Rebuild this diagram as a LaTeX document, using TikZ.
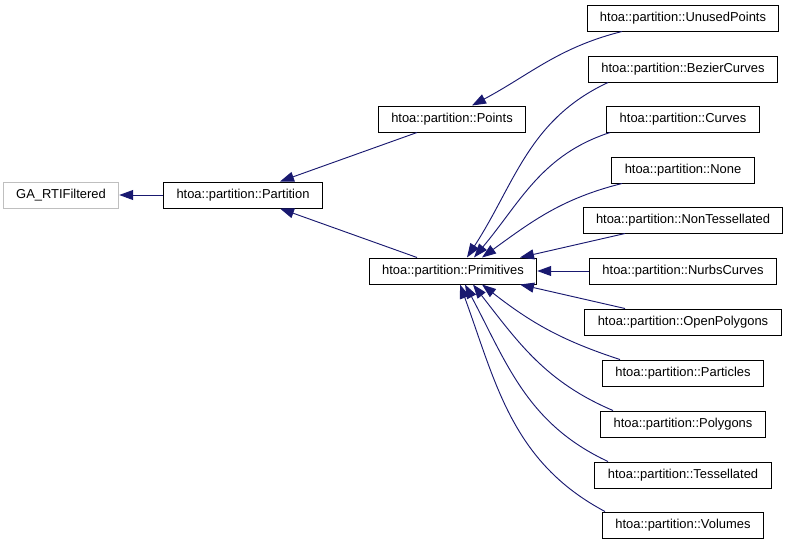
\documentclass[tikz,border=0pt]{standalone}
\usepackage{fontspec}
\setmainfont{Liberation Sans}
\usetikzlibrary{arrows.meta,calc}
\definecolor{edgeblue}{HTML}{191970}
\begin{document}
\begin{tikzpicture}[x=0.75pt,y=0.75pt,font=\fontsize{9.7}{11}\selectfont,
  cls/.style={draw=black,line width=0.75pt,fill=white,minimum height=19.5pt,inner xsep=9.7pt,inner ysep=0pt},
  ext/.style={cls,draw=black!25},
  inh/.style={draw=edgeblue,line width=0.7pt,-{Triangle[length=10.5pt,width=7.5pt]}}]
\useasboundingbox (0,0) rectangle (789,-544);
\node[ext] (ga) at (61,-195) {GA\_RTIFiltered};
\node[cls] (part) at (243,-195) {htoa::partition::Partition};
\node[cls] (pts) at (452,-119) {htoa::partition::Points};
\node[cls] (prim) at (453,-271) {htoa::partition::Primitives};
\node[cls] (unused) at (683,-18) {htoa::partition::UnusedPoints};
\node[cls] (bez) at (683,-69) {htoa::partition::BezierCurves};
\node[cls] (curves) at (683,-119) {htoa::partition::Curves};
\node[cls] (none) at (683,-170) {htoa::partition::None};
\node[cls] (nontess) at (683,-220) {htoa::partition::NonTessellated};
\node[cls] (nurbs) at (683,-271) {htoa::partition::NurbsCurves};
\node[cls] (openp) at (683,-322) {htoa::partition::OpenPolygons};
\node[cls] (parts) at (683,-373) {htoa::partition::Particles};
\node[cls] (polys) at (683,-424) {htoa::partition::Polygons};
\node[cls] (tess) at (683,-475) {htoa::partition::Tessellated};
\node[cls] (vols) at (683,-525) {htoa::partition::Volumes};
\draw[inh] (part.west) -- (ga.east);
\draw[inh] ($(pts.south)+(-35,0)$) -- ($(part.north)+(37,0)$);
\draw[inh] ($(prim.north)+(-36,0)$) -- ($(part.south)+(37,0)$);
\draw[inh] ($(unused.south)+(-61,0)$) to[out=194,in=28] ($(pts.north)+(20,0)$);
\draw[inh] ($(bez.south)+(-75,0)$) to[out=205,in=57] ($(prim.north)+(14,0)$);
\draw[inh] ($(curves.south)+(-73,0)$) to[out=198,in=50] ($(prim.north)+(21,0)$);
\draw[inh] ($(none.south)+(-61,0)$) to[out=194,in=36] ($(prim.north)+(29,0)$);
\draw[inh] ($(nontess.south)+(-58,0)$) -- ($(prim.north)+(67,0)$);
\draw[inh] (nurbs.west) -- (prim.east);
\draw[inh] ($(openp.north)+(-58,0)$) -- ($(prim.south)+(67,0)$);
\draw[inh] ($(parts.north)+(-63,0)$) to[out=162,in=-38] ($(prim.south)+(29,0)$);
\draw[inh] ($(polys.north)+(-70,0)$) to[out=157,in=-52] ($(prim.south)+(20,0)$);
\draw[inh] ($(tess.north)+(-75,0)$) to[out=155,in=-62] ($(prim.south)+(12,0)$);
\draw[inh] ($(vols.north)+(-78,0)$) to[out=152,in=-70] ($(prim.south)+(7,0)$);
\end{tikzpicture}
\end{document}
